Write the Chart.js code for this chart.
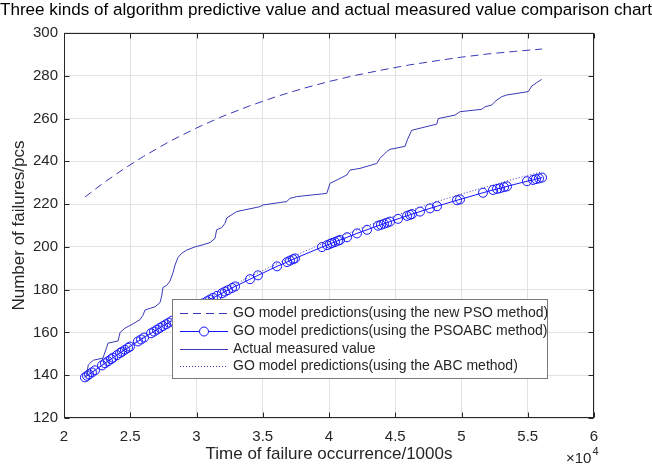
<!DOCTYPE html>
<html>
<head>
<meta charset="utf-8">
<script src="https://cdn.jsdelivr.net/npm/chart.js@4.4.1/dist/chart.umd.min.js"></script>
<style>
html,body{margin:0;padding:0;background:#fff;}
#wrap{width:652px;height:466px;position:relative;}
</style>
</head>
<body>
<div id="wrap"><canvas id="c" width="652" height="466"></canvas></div>
<script>
// ---------- text ----------
const chartTitle = 'Three kinds of algorithm predictive value and actual measured value comparison chart';
const xTitle = 'Time of failure occurrence/1000s';
const yTitle = 'Number of failures/pcs';
const xExpBase = '\u00d710';
const xExpPower = '4';
const legendLabels = [
  'GO model predictions(using the new PSO method)',
  'GO model predictions(using the PSOABC method)',
  'Actual measured value',
  'GO model predictions(using the ABC method)'
];

// ---------- ticks ----------
const xTicks = [2, 2.5, 3, 3.5, 4, 4.5, 5, 5.5, 6];
const yTicks = [120, 140, 160, 180, 200, 220, 240, 260, 280, 300];

// ---------- data (time in units of 10^4) ----------
const modelTime = [2.158, 2.3, 2.45, 2.6, 2.8, 3.0, 3.2, 3.4, 3.6, 3.8, 4.0, 4.2, 4.4, 4.6, 4.8, 5.0, 5.2, 5.4, 5.608];
const psoNewPred = [223.3, 230.0, 236.4, 242.3, 249.4, 255.6, 261.1, 265.9, 270.2, 274.0, 277.3, 280.2, 282.7, 285.0, 286.9, 288.7, 290.2, 291.4, 292.5];
const abcPred = [139.3, 145.6, 151.9, 158.0, 165.7, 172.9, 179.6, 186.0, 191.9, 197.5, 202.8, 207.7, 212.4, 216.7, 220.9, 224.7, 228.3, 231.8, 235.1];

const failureTime = [2.158, 2.174, 2.189, 2.211, 2.234, 2.287, 2.309, 2.332, 2.355, 2.370,
  2.400, 2.423, 2.438, 2.460, 2.483, 2.498, 2.558, 2.581, 2.604,
  2.657, 2.679, 2.702, 2.725, 2.747, 2.770, 2.792, 2.815, 2.875, 2.951,
  3.004, 3.026, 3.049, 3.079, 3.102, 3.125, 3.155, 3.192, 3.215, 3.238,
  3.268, 3.291, 3.404, 3.464, 3.608, 3.683, 3.706, 3.728, 3.743, 3.947,
  3.985, 4.008, 4.023, 4.045, 4.068, 4.083, 4.136, 4.211, 4.287, 4.370,
  4.392, 4.415, 4.438, 4.460, 4.521, 4.589, 4.611, 4.626, 4.687, 4.762,
  4.815, 4.966, 4.989, 5.162, 5.238, 5.268, 5.291, 5.321, 5.343, 5.494,
  5.540, 5.562, 5.585, 5.608];
const psoabcPred = [139.0, 139.7, 140.4, 141.3, 142.3, 144.6, 145.6, 146.5, 147.5, 148.2,
  149.4, 150.4, 151.0, 151.9, 152.8, 153.4, 155.8, 156.7, 157.6,
  159.6, 160.4, 161.3, 162.2, 163.0, 163.8, 164.6, 165.5, 167.6, 170.3,
  172.1, 172.9, 173.6, 174.6, 175.4, 176.2, 177.1, 178.3, 179.1, 179.8,
  180.8, 181.5, 184.9, 186.7, 190.9, 192.9, 193.6, 194.2, 194.6, 199.9,
  200.8, 201.4, 201.8, 202.3, 202.9, 203.2, 204.5, 206.3, 208.0, 209.9,
  210.3, 210.8, 211.3, 211.8, 213.1, 214.5, 215.0, 215.3, 216.5, 218.0,
  219.0, 221.8, 222.2, 225.3, 226.6, 227.1, 227.4, 227.9, 228.3, 230.7,
  231.3, 231.7, 232.0, 232.4];

const actualTime = [2.160, 2.171, 2.183, 2.221, 2.294, 2.322, 2.332, 2.408, 2.423, 2.460,
  2.521, 2.574, 2.596, 2.611, 2.687, 2.725, 2.737, 2.747, 2.775, 2.800,
  2.823, 2.838, 2.860, 2.888, 2.926, 2.989, 3.049, 3.102, 3.140, 3.152,
  3.190, 3.215, 3.228, 3.303, 3.479, 3.502, 3.681, 3.706, 3.756, 3.983,
  4.008, 4.083, 4.134, 4.158, 4.234, 4.360, 4.385, 4.435, 4.460, 4.574,
  4.591, 4.624, 4.813, 4.825, 4.951, 4.989, 5.152, 5.177, 5.228, 5.253,
  5.303, 5.341, 5.504, 5.530, 5.568, 5.605];
const actualCount = [139.5, 140, 144.8, 147, 148, 153, 155, 156, 160, 162,
  164, 166, 168, 170.5, 172, 174, 177, 181, 182, 184,
  188, 191.5, 195, 197, 198.5, 200, 201, 202, 204, 208,
  209, 211, 213.5, 216.5, 218.8, 219.6, 221.2, 222.7, 223.5, 225,
  229.7, 232, 233.6, 235.9, 236.7, 239, 241.4, 244.5, 245.6, 247,
  250, 254.5, 257.4, 260, 261.6, 263.2, 264.3, 265.5, 266.3, 268,
  270.2, 271, 272.6, 275.2, 276.8, 278.3];

// ---------- helpers ----------
const FONT = '"Liberation Sans", Arial, Helvetica, sans-serif';
const AXIS_COLOR = '#262626';
const LINE_BLUE = '#3838b8';
const MARK_BLUE = '#1414ff';
function pairs(xs, ys) {
  const n = Math.min(xs.length, ys.length);
  const out = [];
  for (let i = 0; i < n; i++) out.push({x: xs[i], y: ys[i]});
  return out;
}

const legendStyles = [
  {color: LINE_BLUE, dash: [8, 5], marker: false},
  {color: MARK_BLUE, dash: [], marker: true},
  {color: LINE_BLUE, dash: [], marker: false},
  {color: LINE_BLUE, dash: [1, 2], marker: false}
];

const decor = {
  id: 'decor',
  afterDraw(chart) {
    const {ctx, chartArea: a, scales: {x, y}} = chart;
    ctx.save();
    ctx.strokeStyle = AXIS_COLOR;
    ctx.lineWidth = 1;
    ctx.setLineDash([]);
    const L = Math.round(a.left) + 0.5, R = Math.round(a.right) - 0.5;
    const T = Math.round(a.top) + 0.5, B = Math.round(a.bottom) - 0.5;
    ctx.strokeRect(L, T, R - L, B - T);
    const tl = 5;
    ctx.beginPath();
    xTicks.forEach(v => {
      const p = Math.round(x.getPixelForValue(v)) + 0.5;
      ctx.moveTo(p, B); ctx.lineTo(p, B - tl);
      ctx.moveTo(p, T); ctx.lineTo(p, T + tl);
    });
    yTicks.forEach(v => {
      const p = Math.round(y.getPixelForValue(v)) + 0.5;
      ctx.moveTo(L, p); ctx.lineTo(L + tl, p);
      ctx.moveTo(R, p); ctx.lineTo(R - tl, p);
    });
    ctx.stroke();

    // legend box
    const bx = 172.5, by = 299.5, bw = 375, bh = 79;
    ctx.fillStyle = '#ffffff';
    ctx.fillRect(bx, by, bw, bh);
    ctx.strokeStyle = '#7a7a7a';
    ctx.strokeRect(bx, by, bw, bh);
    const rows = [313, 331, 348.5, 366];
    ctx.font = '14px ' + FONT;
    ctx.textBaseline = 'middle';
    ctx.textAlign = 'left';
    legendLabels.forEach((lab, i) => {
      const st = legendStyles[i];
      const ry = Math.round(rows[i]) + 0.5;
      ctx.strokeStyle = st.color;
      ctx.lineWidth = 1;
      ctx.setLineDash(st.dash);
      ctx.beginPath();
      ctx.moveTo(180, ry); ctx.lineTo(228, ry);
      ctx.stroke();
      ctx.setLineDash([]);
      if (st.marker) {
        ctx.beginPath();
        ctx.fillStyle = '#ffffff';
        ctx.arc(204, ry, 4.5, 0, Math.PI * 2);
        ctx.fill();
        ctx.stroke();
      }
      ctx.fillStyle = AXIS_COLOR;
      ctx.fillText(lab, 233, rows[i] + 0.5);
    });

    // x10^4 exponent label
    ctx.fillStyle = AXIS_COLOR;
    ctx.textBaseline = 'alphabetic';
    ctx.font = '15px ' + FONT;
    const ex = 566, ey = 463;
    ctx.fillText(xExpBase, ex, ey);
    const w = ctx.measureText(xExpBase).width;
    ctx.font = '11px ' + FONT;
    ctx.fillText(xExpPower, ex + w + 1, ey - 8);
    ctx.restore();
  }
};

new Chart(document.getElementById('c'), {
  type: 'line',
  data: {
    datasets: [
      {
        label: legendLabels[3],
        data: pairs(modelTime, abcPred),
        borderColor: LINE_BLUE, borderWidth: 1, borderDash: [1, 2],
        pointRadius: 0, fill: false, tension: 0
      },
      {
        label: legendLabels[2],
        data: pairs(actualTime, actualCount),
        borderColor: LINE_BLUE, borderWidth: 1,
        pointRadius: 0, fill: false, tension: 0
      },
      {
        label: legendLabels[1],
        data: pairs(failureTime, psoabcPred),
        borderColor: MARK_BLUE, borderWidth: 1,
        pointRadius: 4.5, pointStyle: 'circle', pointBorderWidth: 1,
        pointBorderColor: MARK_BLUE, pointBackgroundColor: 'rgba(0,0,0,0)',
        fill: false, tension: 0
      },
      {
        label: legendLabels[0],
        data: pairs(modelTime, psoNewPred),
        borderColor: LINE_BLUE, borderWidth: 1, borderDash: [8, 5],
        pointRadius: 0, fill: false, tension: 0
      }
    ]
  },
  options: {
    responsive: false,
    animation: false,
    devicePixelRatio: 1,
    events: [],
    layout: {padding: {left: 0, right: 0, top: 0, bottom: 0}},
    plugins: {
      legend: {display: false},
      tooltip: {enabled: false},
      title: {
        display: true, text: chartTitle, color: '#000000',
        font: {family: FONT, size: 17.4, weight: 'normal'},
        padding: {top: 0, bottom: 12.1}
      }
    },
    scales: {
      x: {
        type: 'linear', min: 2, max: 6,
        afterBuildTicks: s => { s.ticks = xTicks.map(v => ({value: v})); },
        afterFit: s => { s.height = 48; },
        ticks: {
          color: AXIS_COLOR, padding: 10, maxRotation: 0,
          font: {family: FONT, size: 15},
          callback: v => String(v)
        },
        grid: {color: '#e2e2e2', drawTicks: false, lineWidth: 1},
        border: {display: false},
        title: {
          display: true, text: xTitle, color: AXIS_COLOR,
          font: {family: FONT, size: 17},
          padding: {top: 0, bottom: 1}
        }
      },
      y: {
        type: 'linear', min: 120, max: 300,
        afterBuildTicks: s => { s.ticks = yTicks.map(v => ({value: v})); },
        afterFit: s => { s.width = 64; },
        ticks: {
          color: AXIS_COLOR, padding: 6,
          font: {family: FONT, size: 15},
          callback: v => String(v)
        },
        grid: {color: '#e2e2e2', drawTicks: false, lineWidth: 1},
        border: {display: false},
        title: {
          display: true, text: yTitle, color: AXIS_COLOR,
          font: {family: FONT, size: 17},
          padding: {top: 9, bottom: 0}
        }
      },
      yRightSpace: {
        type: 'linear', position: 'right', min: 120, max: 300,
        afterFit: s => { s.width = 58; },
        ticks: {display: false},
        grid: {display: false, drawTicks: false},
        border: {display: false},
        title: {display: false}
      }
    }
  },
  plugins: [decor]
});
</script>
</body>
</html>
